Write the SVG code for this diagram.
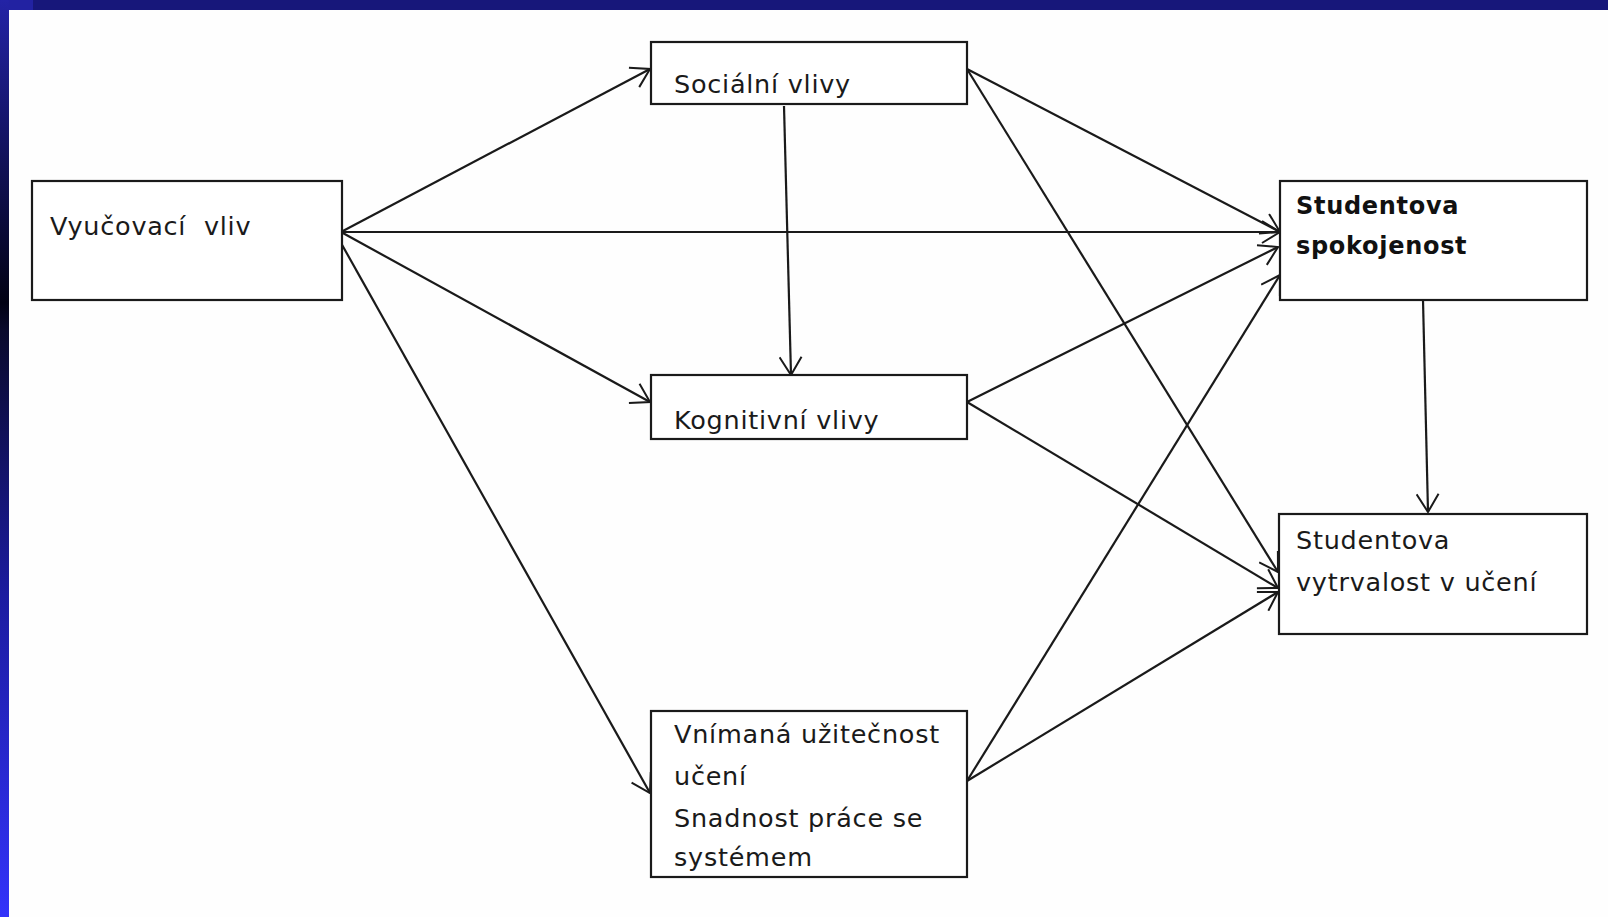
<svg xmlns="http://www.w3.org/2000/svg" width="1608" height="917" viewBox="0 0 1608 917">
<defs>
<linearGradient id="lb" x1="0" y1="0" x2="0" y2="1">
<stop offset="0" stop-color="#2323a6"/>
<stop offset="0.33" stop-color="#020214"/>
<stop offset="0.36" stop-color="#0a0a2c"/>
<stop offset="0.65" stop-color="#1c1ca0"/>
<stop offset="1" stop-color="#3333fa"/>
</linearGradient>
<marker id="ah" viewBox="0 0 20 24" refX="19" refY="12" markerWidth="20" markerHeight="24" markerUnits="userSpaceOnUse" orient="auto">
<path d="M1,1 L19,12 L1,23" fill="none" stroke="#1a1a1a" stroke-width="2"/>
</marker>
<style>
.box{fill:#ffffff;stroke:#1a1a1a;stroke-width:2.2}
.t{font-family:"DejaVu Sans",Verdana,sans-serif;font-size:25.5px;letter-spacing:0.75px;fill:#1a1a1a}
.b{font-family:"DejaVu Sans",Verdana,sans-serif;font-size:24px;font-weight:bold;letter-spacing:0.7px;fill:#111}
.c{stroke:#1a1a1a;stroke-width:2.2;fill:none;marker-end:url(#ah)}
</style>
</defs>
<rect x="0" y="0" width="1608" height="917" fill="#fefefe"/>
<rect x="0" y="0" width="1608" height="10" fill="#17177a"/>
<rect x="0" y="0" width="33" height="10" fill="#2222a2"/>
<rect x="0" y="0" width="9" height="917" fill="url(#lb)"/>

<g id="connectors">
<line class="c" x1="341" y1="232" x2="650" y2="69"/>
<line class="c" x1="341" y1="232" x2="1280" y2="232"/>
<line class="c" x1="341" y1="232" x2="650" y2="402"/>
<line class="c" x1="341" y1="243" x2="650" y2="793"/>
<line class="c" x1="784" y1="106" x2="791" y2="375"/>
<line class="c" x1="967" y1="69" x2="1280" y2="232"/>
<line class="c" x1="967" y1="69" x2="1278" y2="572"/>
<line class="c" x1="967" y1="402" x2="1278" y2="247"/>
<line class="c" x1="967" y1="402" x2="1278" y2="588"/>
<line class="c" x1="967" y1="781" x2="1280" y2="275"/>
<line class="c" x1="967" y1="781" x2="1278" y2="592"/>
<line class="c" x1="1423" y1="300" x2="1428" y2="512"/>
</g>

<g id="vyucovaci">
<rect class="box" x="32" y="181" width="310" height="119"/>
<text class="t" x="50" y="235" xml:space="preserve">Vyučovací  vliv</text>
</g>
<g id="socialni">
<rect class="box" x="651" y="42" width="316" height="62"/>
<text class="t" x="674" y="93">Sociální vlivy</text>
</g>
<g id="kognitivni">
<rect class="box" x="651" y="375" width="316" height="64"/>
<text class="t" x="674" y="429">Kognitivní vlivy</text>
</g>
<g id="vnimana">
<rect class="box" x="651" y="711" width="316" height="166"/>
<text class="t" x="674" y="743">Vnímaná užitečnost</text>
<text class="t" x="674" y="785">učení</text>
<text class="t" x="674" y="827">Snadnost práce se</text>
<text class="t" x="674" y="866">systémem</text>
</g>
<g id="spokojenost">
<rect class="box" x="1280" y="181" width="307" height="119"/>
<text class="b" x="1296" y="214">Studentova</text>
<text class="b" x="1296" y="254">spokojenost</text>
</g>
<g id="vytrvalost">
<rect class="box" x="1279" y="514" width="308" height="120"/>
<text class="t" x="1296" y="549">Studentova</text>
<text class="t" x="1296" y="591">vytrvalost v učení</text>
</g>
</svg>
